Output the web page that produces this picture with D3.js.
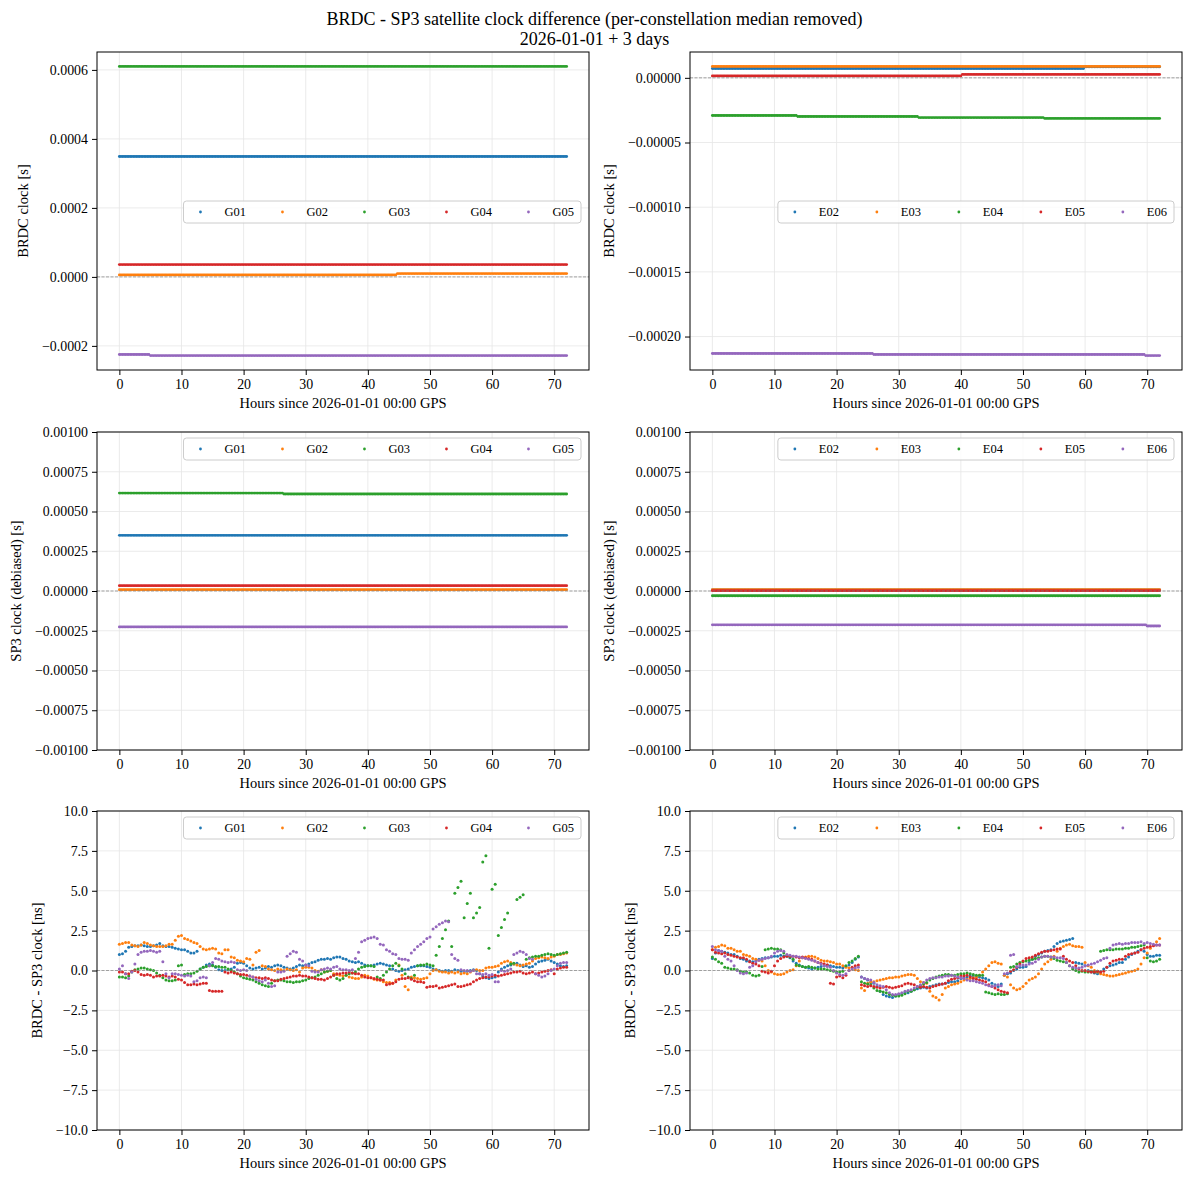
<!DOCTYPE html>
<html>
<head>
<meta charset="utf-8">
<script src="https://cdn.jsdelivr.net/npm/d3@7"></script>
<style>
  body { margin: 0; background: #fff; }
  svg text { font-family: "Liberation Serif", "DejaVu Serif", serif; fill: #000; }
</style>
</head>
<body>
<svg id="fig" width="1189" height="1180"></svg>
<script>
// ---- data -------------------------------------------------------------
const gpsSats = ['G01', 'G02', 'G03', 'G04', 'G05'];
const galSats = ['E02', 'E03', 'E04', 'E05', 'E06'];
const satColors = ['#1f77b4', '#ff7f0e', '#2ca02c', '#d62728', '#9467bd'];

const hourTicks = [0, 10, 20, 30, 40, 50, 60, 70];
const brdcGTicks = [-0.0002, 0, 0.0002, 0.0004, 0.0006];
const brdcETicks = [-0.0002, -0.00015, -0.0001, -0.00005, 0];
const sp3Ticks = [-0.001, -0.00075, -0.0005, -0.00025, 0, 0.00025, 0.0005, 0.00075, 0.001];
const diffTicks = [-10, -7.5, -5, -2.5, 0, 2.5, 5, 7.5, 10];

// clock epochs: 15 min for the clocks, 30 min for the differences
const stepHours = d3.range(0, 72.125, 0.25);
const diffHours = d3.range(0, 72.25, 0.5);

// BRDC clocks, piecewise constant [fromHour, toHour, seconds]
const brdcG01 = [[0, 72, 3.49e-4]];
const brdcG02 = [[0, 44.5, 5.8e-6], [44.75, 72, 9.7e-6]];
const brdcG03 = [[0, 72, 6.10e-4]];
const brdcG04 = [[0, 72, 3.57e-5]];
const brdcG05 = [[0, 4.75, -2.25e-4], [5, 72, -2.28e-4]];

const brdcE02 = [[0, 59.75, 7.2e-6], [60, 72, 8.5e-6]];
const brdcE03 = [[0, 72, 8.8e-6]];
const brdcE04 = [[0, 13.5, -2.91e-5], [13.75, 33, -2.99e-5], [33.25, 53.25, -3.07e-5], [53.5, 72, -3.14e-5]];
const brdcE05 = [[0, 40, 1.5e-6], [40.25, 72, 2.6e-6]];
const brdcE06 = [[0, 25.75, -2.131e-4], [26, 69.5, -2.139e-4], [69.75, 72, -2.147e-4]];

// SP3 clocks (debiased)
const sp3G01 = [[0, 72, 3.50e-4]];
const sp3G02 = [[0, 72, 8.4e-6]];
const sp3G03 = [[0, 26.25, 6.16e-4], [26.5, 72, 6.10e-4]];
const sp3G04 = [[0, 72, 3.38e-5]];
const sp3G05 = [[0, 72, -2.26e-4]];

const sp3E02 = [[0, 72, 7.0e-6]];
const sp3E03 = [[0, 72, 8.5e-6]];
const sp3E04 = [[0, 72, -3.0e-5]];
const sp3E05 = [[0, 72, 2.0e-6]];
const sp3E06 = [[0, 69.75, -2.13e-4], [70, 72, -2.2e-4]];

// BRDC - SP3 [ns], one value every 30 min (12 values = 6 h per row)
const diffG01 = [
  1.0, 1.05, 1.2, 1.45, 1.5, 1.55, 1.55, 1.6, 1.55, 1.5, 1.5, 1.55,
  1.6, 1.7, 1.55, 1.5, 1.5, 1.45, 1.4, 1.35, 1.3, 1.3, 1.2, 1.1,
  1.1, 1.2, 0.1, 0.2, 0.35, 0.4, 0.35, 0.2, 0.05, 0.0, 0.0, 0.05,
  0.1, 0.2, 0.45, 0.5, 0.45, 0.3, 0.15, 0.1, 0.15, 0.2, 0.1, 0.15,
  0.25, 0.2, 0.3, 0.35, 0.3, 0.2, 0.15, 0.1, 0.15, 0.25, 0.35, 0.3,
  0.35, 0.4, 0.5, 0.55, 0.65, 0.7, 0.7, 0.75, 0.7, 0.8, 0.85, 0.85,
  0.75, 0.7, 0.6, 0.55, 0.5, 0.55, 0.45, 0.35, 0.3, 0.3, 0.35, 0.4,
  0.45, 0.4, 0.35, 0.3, 0.1, 0.0, -0.05, 0.0, 0.05, 0.1, 0.2, 0.25,
  0.3, 0.3, 0.3, 0.25, 0.2, 0.1, 0.05, 0.0, -0.05, 0.0, 0.0, -0.05,
  0.05, 0.0, -0.05, -0.1, -0.05, 0.0, 0.05, 0.0, -0.2, -0.35, -0.45, -0.5,
  -0.45, -0.4, -0.1, 0.1, 0.2, 0.3, 0.35, 0.4, 0.45, 0.35, 0.25, 0.3,
  0.2, 0.25, 0.4, 0.55, 0.6, 0.65, 0.7, 0.6, 0.5, 0.4, 0.3, 0.25,
  0.3];
const diffG02 = [
  1.65, 1.7, 1.75, 1.75, 1.6, 1.55, 1.5, 1.6, 1.75, 1.7, 1.6, 1.55,
  1.5, 1.5, 1.5, 1.55, 1.65, 1.65, 1.9, 2.15, 2.2, 2.0, 1.95, 1.85,
  1.75, 1.7, 1.5, 1.35, 1.3, 1.35, 1.4, 1.35, 1.1, 1.05, 1.3, 1.3,
  0.85, 0.8, 0.65, 0.6, 0.55, 0.75, 0.7, 0.35, 1.15, 1.25, 0.3, 0.25,
  0.1, 0.05, 0.0, 0.1, 0.05, 0.0, 0.1, 0.05, 0.0, 0.05, -0.1, 0.15,
  0.2, 0.2, 0.15, 0.0, -0.05, 0.05, -0.1, -0.05, 0.0, -0.2, -0.25, -0.3,
  -0.35, -0.3, -0.4, -0.45, -0.5, -0.5, -0.4, -0.3, -0.35, -0.45, -0.55, -0.6,
  -0.6, -0.7, -0.75, -0.75, -0.8, -0.6, 0.35, -0.3, -1.0, -1.2, -0.4, -0.45,
  -0.5, -0.55, -0.5, -0.45, -0.2, 0.0, 0.05, -0.05, -0.1, -0.1, -0.15, -0.1,
  -0.15, -0.1, -0.2, -0.15, -0.2, -0.1, 0.0, 0.05, 0.0, 0.0, 0.15, 0.2,
  0.2, 0.25, 0.3, 0.45, 0.55, 0.6, 0.5, 0.4, 0.35, 0.3, 0.35, 0.4,
  0.45, 0.6, 0.75, 0.8, 0.85, 0.8, 0.75, 0.85, 0.9, 1.0, 1.0, 1.05,
  1.1];
const diffG03 = [
  -0.4, -0.4, -0.45, -0.35, -0.1, 0.05, 0.1, 0.15, 0.15, 0.1, 0.05, 0.0,
  -0.15, -0.3, -0.45, -0.6, -0.65, -0.65, -0.6, 0.3, 0.35, -0.25, -0.2, -0.2,
  -0.15, -0.05, 0.1, 0.2, 0.25, 0.3, 0.3, 0.25, 0.25, 0.2, 0.2, 0.1,
  0.0, -0.1, -0.2, -0.35, -0.45, -0.5, -0.55, -0.6, -0.7, -0.8, -0.9, -0.95,
  -1.0, -0.8, -0.65, -0.6, -0.6, -0.65, -0.7, -0.7, -0.75, -0.7, -0.7, -0.65,
  -0.6, -0.5, -0.45, -0.4, -0.3, -0.2, -0.1, -0.05, 0.0, -0.3, -0.5, -0.6,
  -0.5, -0.3, -0.2, -0.15, -0.1, 0.1, 0.2, 0.25, 0.3, 0.3, 0.25, -0.4,
  -0.5, -0.3, -0.1, 0.1, 0.3, 0.45, 0.3, 0.1, -0.2, -0.4, -0.5, -0.3,
  0.3, 0.35, 0.35, 0.4, 0.35, 0.3, 0.95, 1.5, 2.0, 2.55, 3.1, 1.5,
  4.85, 5.2, 5.6, 3.3, 4.2, 4.85, 3.3, 3.6, 3.95, 6.8, 7.2, 1.4,
  5.1, 5.4, 2.2, 2.7, 3.2, 3.6, 0.4, 0.45, 4.45, 4.6, 4.75, 0.7,
  0.8, 0.85, 0.9, 0.9, 0.95, 1.0, 1.05, 1.0, 0.95, 1.0, 1.05, 1.1,
  1.15];
const diffG04 = [
  -0.1, -0.1, -0.2, -0.2, -0.05, 0.0, -0.1, -0.25, -0.3, -0.25, -0.3, -0.4,
  -0.35, -0.35, -0.3, -0.35, -0.4, -0.35, -0.4, -0.55, -0.6, -0.75, -0.9, -0.9,
  -0.85, -0.9, -0.85, -0.8, -0.8, -1.25, -1.3, -1.3, -1.3, -1.3, -0.1, -0.15,
  -0.1, -0.15, -0.2, -0.25, -0.25, -0.3, -0.35, -0.4, -0.45, -0.45, -0.5, -0.45,
  -0.5, -0.6, -0.65, -0.65, -0.55, -0.5, -0.45, -0.4, -0.35, -0.35, -0.3, -0.35,
  -0.35, -0.4, -0.45, -0.5, -0.55, -0.55, -0.6, -0.5, -0.4, -0.3, -0.2, -0.2,
  -0.15, -0.15, -0.1, -0.15, -0.2, -0.2, -0.3, -0.4, -0.45, -0.45, -0.5, -0.55,
  -0.6, -0.6, -0.9, -0.85, -0.8, -0.7, -0.55, -0.5, -0.5, -0.45, -0.55, -0.65,
  -0.7, -0.7, -0.75, -1.05, -1.0, -1.0, -0.95, -1.1, -1.05, -1.0, -0.95, -0.9,
  -0.85, -1.0, -1.0, -0.95, -0.9, -0.85, -0.7, -0.6, -0.5, -0.45, -0.4, -0.4,
  -0.35, -0.3, -0.35, -0.3, -0.25, -0.2, -0.15, -0.1, -0.1, -0.05, -0.15, -0.2,
  -0.15, -0.1, -0.2, -0.15, -0.1, -0.05, 0.0, 0.05, -0.2, 0.1, 0.15, 0.2,
  0.2];
const diffG05 = [
  0.1, 0.3, -0.2, -0.5, -0.1, 0.4, 1.0, 1.15, 1.2, 1.2, 1.25, 1.2,
  1.15, 1.2, 0.55, -0.2, -0.45, -0.2, -0.2, -0.25, -0.3, -0.35, -0.3, -0.35,
  -0.7, -0.65, -0.45, -0.4, -0.45, 0.3, 0.5, 0.75, 0.7, 0.6, 0.55, 0.5,
  0.55, 0.5, 0.05, 0.0, 0.05, 0.0, -0.35, -0.4, -0.55, -0.65, -0.7, -0.6,
  -0.8, -1.0, -0.95, -0.1, -0.1, -0.05, 0.9, 1.05, 1.2, 1.15, 0.7, 0.6,
  0.35, 0.3, -0.05, -0.1, -0.1, 0.05, 0.1, 0.15, 0.1, 0.2, 0.25, 0.1,
  0.05, 0.05, 0.0, 0.05, 0.75, 1.15, 1.8, 1.9, 2.0, 2.05, 2.1, 2.0,
  1.65, 1.6, 1.3, 1.2, 1.05, 1.0, 0.75, 0.7, 0.7, 0.65, 1.1, 1.3,
  1.5, 1.65, 1.8, 2.0, 2.1, 2.6, 2.75, 2.9, 3.0, 3.1, 3.05, 1.0,
  0.75, 0.65, 0.05, 0.0, 0.0, -0.05, 0.0, -0.2, -0.2, -0.25, -0.2, -0.3,
  -0.25, -0.7, -0.7, 0.0, -0.05, 0.0, 0.1, 1.0, 1.1, 1.2, 1.15, 1.0,
  0.75, 0.7, -0.2, -0.3, -0.4, -0.35, -0.2, 0.0, 0.1, 0.3, 0.45, 0.5,
  0.5];

const diffE02 = [
  0.75, 1.1, 1.25, 1.2, 1.15, 1.1, 1.0, 1.0, 0.9, 0.75, 0.7, 0.6,
  0.6, 0.55, 0.6, 0.7, 0.75, 0.8, 0.8, 0.85, 0.9, 0.9, 0.95, 0.9,
  0.9, 0.8, 0.6, 0.45, 0.35, 0.25, 0.2, 0.15, 0.1, 0.15, 0.2, 0.25,
  0.3, 0.35, 0.3, 0.25, 0.2, 0.2, 0.15, 0.25, 0.35, 0.5, 0.7, 0.85,
  -0.4, -0.5, -0.6, -0.75, -0.8, -1.0, -1.3, -1.5, -1.6, -1.65, -1.7, -1.6,
  -1.5, -1.45, -1.4, -1.4, -1.3, -1.2, -1.15, -1.1, -1.05, -1.1, -1.0, -0.95,
  -0.9, -0.85, -0.85, -0.8, -0.75, -0.7, -0.7, -0.65, -0.5, -0.45, -0.4, -0.35,
  -0.35, -0.4, -0.4, -0.45, -0.5, -0.6, -0.8, -0.9, -1.0, -0.85, -0.3, -0.2,
  -0.15, 0.0, 0.1, 0.2, 0.2, 0.25, 0.5, 0.7, 0.9, 1.0, 1.1, 1.2,
  1.25, 1.3, 1.5, 1.7, 1.8, 1.85, 1.9, 1.95, 2.0, 0.5, 0.45, 0.4,
  0.3, 0.0, -0.1, -0.15, -0.2, -0.1, 0.1, 0.2, 0.3, 0.35, 0.4, 0.5,
  0.5, 0.7, 0.85, 1.0, 1.1, 1.2, 1.3, 1.2, 1.0, 0.9, 0.9, 0.95,
  0.95];
const diffE03 = [
  1.3, 1.45, 1.5, 1.6, 1.55, 1.4, 1.4, 1.3, 1.2, 1.2, 1.0, 0.95,
  0.9, 0.75, 0.7, 0.65, 0.6, 0.3, 0.0, -0.1, -0.2, -0.25, -0.25, -0.2,
  -0.1, 0.0, 0.05, 0.3, 0.6, 0.8, 0.85, 0.9, 0.9, 0.85, 0.75, 0.65,
  0.6, 0.6, 0.55, 0.5, 0.4, 0.4, 0.3, 0.2, 0.15, 0.1, 0.05, 0.0,
  -1.1, -1.25, -0.8, -0.7, -0.7, -0.65, -0.6, -0.55, -0.5, -0.45, -0.45, -0.4,
  -0.4, -0.35, -0.3, -0.25, -0.25, -0.3, -0.5, -0.7, -0.75, -0.8, -1.3, -1.6,
  -1.7, -1.85, -1.5, -1.1, -1.0, -0.9, -0.85, -0.8, -0.7, -0.6, -0.55, -0.5,
  -0.45, -0.4, -0.3, -0.1, 0.1, 0.3, 0.5, 0.55, 0.45, 0.4, -0.3, -0.4,
  -0.9, -1.1, -1.2, -1.15, -1.0, -0.8, -0.6, -0.5, -0.4, -0.2, 0.1, 0.4,
  0.55, 0.7, 0.9, 1.2, 1.4, 1.5, 1.6, 1.65, 1.55, 1.5, 1.5, 1.45,
  0.5, 0.3, 0.2, 0.0, -0.1, -0.2, -0.25, -0.3, -0.35, -0.35, -0.3, -0.25,
  -0.2, -0.15, -0.1, -0.05, 0.0, 0.1, 0.4, 0.8, 1.1, 1.4, 1.6, 1.8,
  2.0];
const diffE04 = [
  0.85, 0.7, 0.55, 0.45, 0.2, 0.15, 0.1, 0.1, 0.05, -0.05, -0.1, -0.1,
  -0.15, -0.3, -0.35, -0.3, 0.25, 1.3, 1.35, 1.4, 1.35, 1.35, 1.3, 1.1,
  0.95, 0.85, 0.7, 0.35, 0.3, 0.25, 0.2, 0.25, 0.2, 0.15, 0.1, 0.1,
  0.1, 0.05, 0.0, -0.05, -0.1, -0.1, -0.05, 0.3, 0.5, 0.6, 0.75, 0.9,
  -0.7, -0.8, -0.85, -0.9, -1.1, -1.25, -1.3, -1.35, -1.4, -1.5, -1.55, -1.6,
  -1.6, -1.55, -1.45, -1.3, -1.3, -1.2, -1.05, -0.95, -0.85, -0.75, -0.6, -0.5,
  -0.4, -0.35, -0.3, -0.25, -0.25, -0.3, -0.3, -0.25, -0.2, -0.2, -0.15, -0.2,
  -0.25, -0.3, -0.3, -0.3, -1.35, -1.4, -1.45, -1.5, -1.45, -1.5, -1.5, -1.45,
  0.2, 0.25, 0.4, 0.5, 0.55, 0.6, 0.65, 0.7, 0.75, 0.8, 0.85, 0.9,
  0.9, 0.85, 0.75, 0.65, 0.6, 0.55, 0.5, 0.3, 0.1, 0.0, -0.1, -0.05,
  -0.1, -0.1, -0.05, -0.1, -0.05, 1.2, 1.25, 1.3, 1.3, 1.3, 1.35, 1.35,
  1.35, 1.4, 1.4, 1.45, 1.45, 1.5, 1.55, 1.6, 0.8, 0.6, 0.55, 0.6,
  0.7];
const diffE05 = [
  1.3, 1.15, 1.1, 1.05, 1.1, 1.0, 0.95, 0.9, 0.85, 0.8, 0.8, 0.7,
  0.55, 0.45, 0.4, 0.3, -0.05, -0.1, -0.15, -0.05, 0.3, 0.6, 0.75, 0.85,
  0.9, 0.9, 0.9, 0.85, 0.8, 0.85, 0.8, 0.75, 0.7, 0.6, 0.5, 0.45,
  0.4, 0.35, -0.8, -0.85, -0.4, -0.35, -0.45, -0.3, 0.0, 0.2, 0.3, 0.35,
  -0.9, -0.95, -1.0, -0.95, -1.0, -1.05, -1.1, -1.05, -1.0, -1.05, -1.1, -1.05,
  -1.0, -0.95, -0.85, -0.8, -0.85, -0.9, -1.0, -1.05, -1.0, -1.05, -1.1, -1.0,
  -0.95, -0.9, -0.85, -0.8, -0.65, -0.55, -0.5, -0.45, -0.35, -0.35, -0.3, -0.4,
  -0.5, -0.55, -0.6, -0.65, -0.7, -0.9, -1.0, -1.1, -1.2, -1.3, -1.35, -1.4,
  -0.05, 0.05, 0.2, 0.4, 0.6, 0.75, 0.8, 0.85, 0.95, 1.05, 1.15, 1.2,
  1.2, 1.25, 1.3, 1.35, 1.35, 0.9, 0.7, 0.6, 0.5, 0.3, 0.1, 0.0,
  0.0, -0.05, -0.1, -0.1, -0.05, -0.1, -0.05, 0.2, 0.45, 0.6, 0.65, 0.7,
  0.7, 0.9, 1.0, 1.05, 1.1, 1.15, 1.3, 1.4, 1.45, 1.5, 1.55, 1.6,
  1.6];
const diffE06 = [
  1.5, 1.3, 1.25, 1.2, 0.9, 0.7, 0.6, 0.3, 0.0, -0.15, -0.2, -0.15,
  0.2, 0.3, 0.55, 0.65, 0.7, 0.75, 0.8, 0.9, 1.1, 1.2, 1.25, 1.2,
  1.0, 0.95, 0.9, 0.9, 0.85, 0.8, 0.75, 0.7, 0.65, 0.6, 0.5, 0.4,
  0.3, 0.25, 0.2, 0.0, -0.15, -0.25, -0.3, -0.2, 0.0, 0.1, 0.15, 0.2,
  -0.4, -0.5, -0.55, -0.6, -0.75, -0.9, -0.95, -1.0, -1.2, -1.4, -1.5, -1.5,
  -1.45, -1.4, -1.3, -1.25, -1.2, -1.1, -1.0, -0.9, -0.75, -0.6, -0.5, -0.45,
  -0.45, -0.4, -0.4, -0.35, -0.35, -0.3, -0.35, -0.4, -0.45, -0.5, -0.6, -0.65,
  -0.65, -0.7, -0.75, -0.8, -0.9, -0.95, -1.0, -0.95, -0.9, -0.95, -0.2, -0.15,
  0.95, 1.0, 0.25, 0.3, 0.35, 0.35, 0.4, 0.45, 0.55, 0.7, 0.85, 0.9,
  0.9, 0.85, 0.85, 0.8, 0.8, 0.75, 0.5, 0.3, 0.2, 0.15, 0.15, 0.2,
  0.3, 0.35, 0.4, 0.45, 0.55, 0.65, 0.75, 0.8, 1.4, 1.6, 1.65, 1.7,
  1.65, 1.7, 1.7, 1.75, 1.75, 1.75, 1.8, 1.7, 1.75, 1.7, 1.65, 1.6,
  1.6];

// ---- layout -----------------------------------------------------------
const colX = [[97, 589], [690, 1182]];
const rowY = [[52, 370], [432, 750], [811, 1130]];
const xDomain = [-3.6, 75.6];

const panels = [
  { col: 0, row: 0, kind: 'step', names: gpsSats, series: [brdcG01, brdcG02, brdcG03, brdcG04, brdcG05],
    yTicks: brdcGTicks, fmt: '.4f', ylabel: 'BRDC clock [s]', legend: 'center' },
  { col: 1, row: 0, kind: 'step', names: galSats, series: [brdcE02, brdcE03, brdcE04, brdcE05, brdcE06],
    yTicks: brdcETicks, fmt: '.5f', ylabel: 'BRDC clock [s]', legend: 'center' },
  { col: 0, row: 1, kind: 'step', names: gpsSats, series: [sp3G01, sp3G02, sp3G03, sp3G04, sp3G05],
    yDomain: [-0.001, 0.001], yTicks: sp3Ticks, fmt: '.5f', ylabel: 'SP3 clock (debiased) [s]', legend: 'top' },
  { col: 1, row: 1, kind: 'step', names: galSats, series: [sp3E02, sp3E03, sp3E04, sp3E05, sp3E06],
    yDomain: [-0.001, 0.001], yTicks: sp3Ticks, fmt: '.5f', ylabel: 'SP3 clock (debiased) [s]', legend: 'top' },
  { col: 0, row: 2, kind: 'diff', names: gpsSats, series: [diffG01, diffG02, diffG03, diffG04, diffG05],
    yDomain: [-10, 10], yTicks: diffTicks, fmt: '.1f', ylabel: 'BRDC - SP3 clock [ns]', legend: 'top' },
  { col: 1, row: 2, kind: 'diff', names: galSats, series: [diffE02, diffE03, diffE04, diffE05, diffE06],
    yDomain: [-10, 10], yTicks: diffTicks, fmt: '.1f', ylabel: 'BRDC - SP3 clock [ns]', legend: 'top' }
];

const svg = d3.select('#fig');

function expandSteps(steps) {
  return stepHours.map(t => {
    const seg = steps.find(s => t >= s[0] - 1e-9 && t <= s[1] + 1e-9);
    return seg ? { t: t, v: seg[2] } : null;
  }).filter(d => d);
}

// title
svg.append('text').attr('x', 594.5).attr('y', 19).attr('text-anchor', 'middle')
  .attr('dominant-baseline', 'central').attr('font-size', 18)
  .text('BRDC - SP3 satellite clock difference (per-constellation median removed)');
svg.append('text').attr('x', 594.5).attr('y', 39).attr('text-anchor', 'middle')
  .attr('dominant-baseline', 'central').attr('font-size', 18)
  .text('2026-01-01 + 3 days');

panels.forEach(drawPanel);

function drawPanel(p) {
  const [x0, x1] = colX[p.col];
  const [y0, y1] = rowY[p.row];

  const pts = p.series.map(s => p.kind === 'step'
    ? expandSteps(s)
    : diffHours.map((t, i) => ({ t: t, v: s[i] })));

  let yDom = p.yDomain;
  if (!yDom) {
    const ext = d3.extent(pts.flat(), d => d.v);
    const m = (ext[1] - ext[0]) * 0.05;
    yDom = [ext[0] - m, ext[1] + m];
  }

  const x = d3.scaleLinear().domain(xDomain).range([x0, x1]);
  const y = d3.scaleLinear().domain(yDom).range([y1, y0]);
  const g = svg.append('g');

  // grid
  g.append('g').selectAll('line').data(hourTicks).join('line')
    .attr('x1', d => x(d)).attr('x2', d => x(d)).attr('y1', y0).attr('y2', y1)
    .attr('stroke', '#e6e6e6').attr('stroke-width', 0.8);
  g.append('g').selectAll('line').data(p.yTicks).join('line')
    .attr('x1', x0).attr('x2', x1).attr('y1', d => y(d)).attr('y2', d => y(d))
    .attr('stroke', '#e6e6e6').attr('stroke-width', 0.8);

  // points
  const r = p.kind === 'step' ? 1.4 : 1.5;
  pts.forEach((series, i) => {
    g.append('g').selectAll('circle').data(series).join('circle')
      .attr('cx', d => x(d.t)).attr('cy', d => y(d.v))
      .attr('r', r).attr('fill', satColors[i]);
  });

  // zero line
  g.append('line').attr('x1', x0).attr('x2', x1).attr('y1', y(0)).attr('y2', y(0))
    .attr('stroke', '#808080').attr('stroke-width', 0.7).attr('stroke-dasharray', '3,1.5');

  // frame
  g.append('rect').attr('x', x0).attr('y', y0).attr('width', x1 - x0).attr('height', y1 - y0)
    .attr('fill', 'none').attr('stroke', '#000').attr('stroke-width', 1);

  // axes
  g.append('g').attr('transform', `translate(0,${y1})`)
    .call(d3.axisBottom(x).tickValues(hourTicks).tickFormat(d3.format('d'))
      .tickSize(5).tickPadding(4).tickSizeOuter(0))
    .attr('font-size', 13.9)
    .call(a => a.select('.domain').remove());

  const yAxis = g.append('g').attr('transform', `translate(${x0},0)`)
    .call(d3.axisLeft(y).tickValues(p.yTicks).tickFormat(d3.format(p.fmt))
      .tickSize(5).tickPadding(4).tickSizeOuter(0))
    .attr('font-size', 13.9)
    .call(a => a.select('.domain').remove());

  // axis labels
  g.append('text').attr('x', (x0 + x1) / 2).attr('y', y1 + 33)
    .attr('text-anchor', 'middle').attr('dominant-baseline', 'central')
    .attr('font-size', 14.5).text('Hours since 2026-01-01 00:00 GPS');

  const minX = d3.min(yAxis.selectAll('text').nodes(), n => x0 + n.getBBox().x);
  g.append('text').attr('transform', `translate(${minX - 14},${(y0 + y1) / 2}) rotate(-90)`)
    .attr('text-anchor', 'middle').attr('font-size', 14.5).text(p.ylabel);

  // legend
  const lg = g.append('g');
  const box = lg.append('rect');
  const items = lg.selectAll('g.item').data(p.names).join('g')
    .attr('transform', (d, i) => `translate(${82 * i},0)`);
  items.append('circle').attr('r', 1.4).attr('fill', (d, i) => satColors[i]);
  items.append('text').attr('x', 24).attr('dominant-baseline', 'central')
    .attr('font-size', 12.5).text(d => d);
  const lastText = items.filter((d, i) => i === p.names.length - 1).select('text').node();
  const lastEnd = 82 * (p.names.length - 1) + 24 + lastText.getComputedTextLength();
  const bx0 = -17, bx1 = lastEnd + 7, bh = 22;
  box.attr('x', bx0).attr('y', -bh / 2).attr('width', bx1 - bx0).attr('height', bh)
    .attr('rx', 3).attr('fill', '#fff').attr('fill-opacity', 0.8)
    .attr('stroke', '#cccccc').attr('stroke-width', 1);
  const ly = p.legend === 'center' ? (y0 + y1) / 2 + 1 : y0 + 6 + bh / 2;
  lg.attr('transform', `translate(${x1 - 8 - bx1},${ly})`);
}
</script>
</body>
</html>
